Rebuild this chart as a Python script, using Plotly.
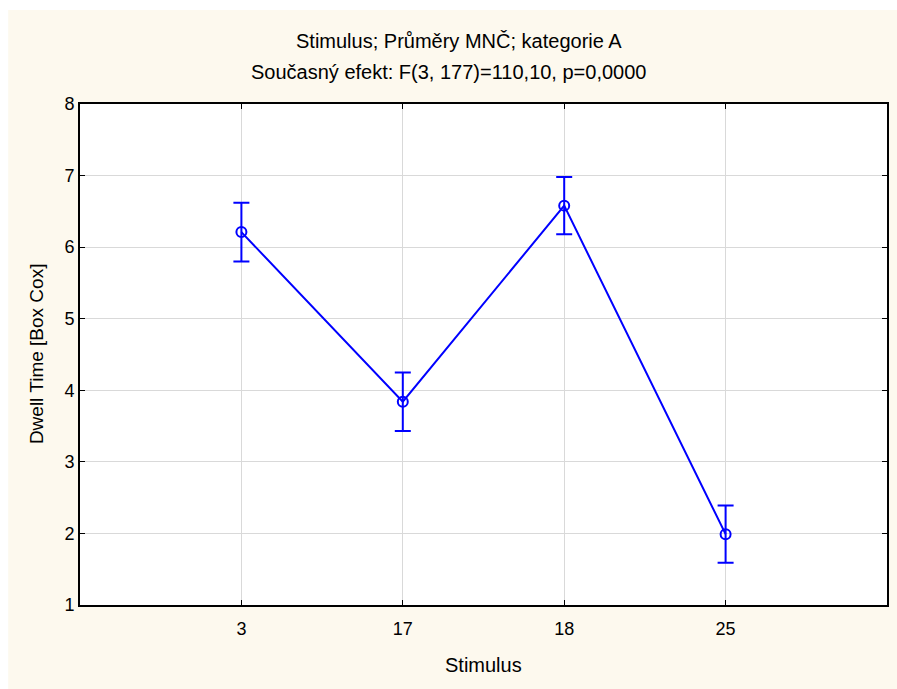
import plotly.graph_objects as go

# Least-squares means of Dwell Time per stimulus, with error bar half-widths
stimulus = ["3", "17", "18", "25"]
mean_dwell = [6.21, 3.84, 6.58, 1.99]
err_half = [0.41, 0.41, 0.40, 0.40]
y_ticks = [1, 2, 3, 4, 5, 6, 7, 8]

title_line1 = "Stimulus; Průměry MNČ; kategorie A"
title_line2 = "Současný efekt: F(3, 177)=110,10, p=0,0000"

W, H = 897, 689
L, R, T, B = 80, 8, 104, 84
pw, ph = W - L - R, H - T - B

BLUE = "#0000FF"
FONT = "Liberation Sans, Arial, sans-serif"

fig = go.Figure()
fig.add_trace(go.Scatter(
    x=stimulus, y=mean_dwell,
    mode="lines+markers",
    line=dict(color=BLUE, width=2),
    marker=dict(symbol="circle-open", size=10, color=BLUE, line=dict(width=2, color=BLUE)),
    error_y=dict(type="data", array=err_half, visible=True, color=BLUE, thickness=2, width=8),
    showlegend=False,
))

def px_x(p):
    return (p - L) / pw

def px_y(p):
    return 1 - (p - T) / ph

shapes = [
    # cream backdrop of the chart panel
    dict(type="rect", xref="paper", yref="paper", layer="below",
         x0=px_x(8), x1=px_x(W + 2), y0=px_y(H + 2), y1=px_y(10),
         fillcolor="#FDF9EE", line=dict(width=0)),
    # white plotting area on top of the backdrop
    dict(type="rect", xref="paper", yref="paper", layer="below",
         x0=0, x1=1, y0=0, y1=1,
         fillcolor="#FFFFFF", line=dict(width=0)),
]

annotations = [
    dict(text=title_line1, xref="paper", yref="paper", x=px_x(460), y=px_y(41),
         showarrow=False, xanchor="center", yanchor="middle",
         font=dict(family=FONT, size=20, color="#000")),
    dict(text=title_line2, xref="paper", yref="paper", x=px_x(449), y=px_y(72),
         showarrow=False, xanchor="center", yanchor="middle",
         font=dict(family=FONT, size=20, color="#000")),
    dict(text="Stimulus", xref="paper", yref="paper", x=0.5, y=px_y(665),
         showarrow=False, xanchor="center", yanchor="middle",
         font=dict(family=FONT, size=20, color="#000")),
    dict(text="Dwell Time [Box Cox]", xref="paper", yref="paper", x=px_x(36), y=px_y(354),
         showarrow=False, xanchor="center", yanchor="middle", textangle=-90,
         font=dict(family=FONT, size=19, color="#000")),
]

axis_common = dict(
    showline=True, linecolor="#000", linewidth=2, mirror="ticks",
    ticks="inside", ticklen=5, tickwidth=1, tickcolor="#000",
    showgrid=True, gridcolor="#D9D9D9", gridwidth=1,
    zeroline=False,
    tickfont=dict(family=FONT, size=18, color="#000"),
)

fig.update_layout(
    width=W, height=H,
    margin=dict(l=L, r=R, t=T, b=B),
    paper_bgcolor="#FFFFFF",
    plot_bgcolor="#FFFFFF",
    shapes=shapes,
    annotations=annotations,
    xaxis=dict(type="category", range=[-1, 4], ticklabelstandoff=6, **axis_common),
    yaxis=dict(range=[1, 8], tickvals=y_ticks, **axis_common),
)

fig.write_html("out.html")
